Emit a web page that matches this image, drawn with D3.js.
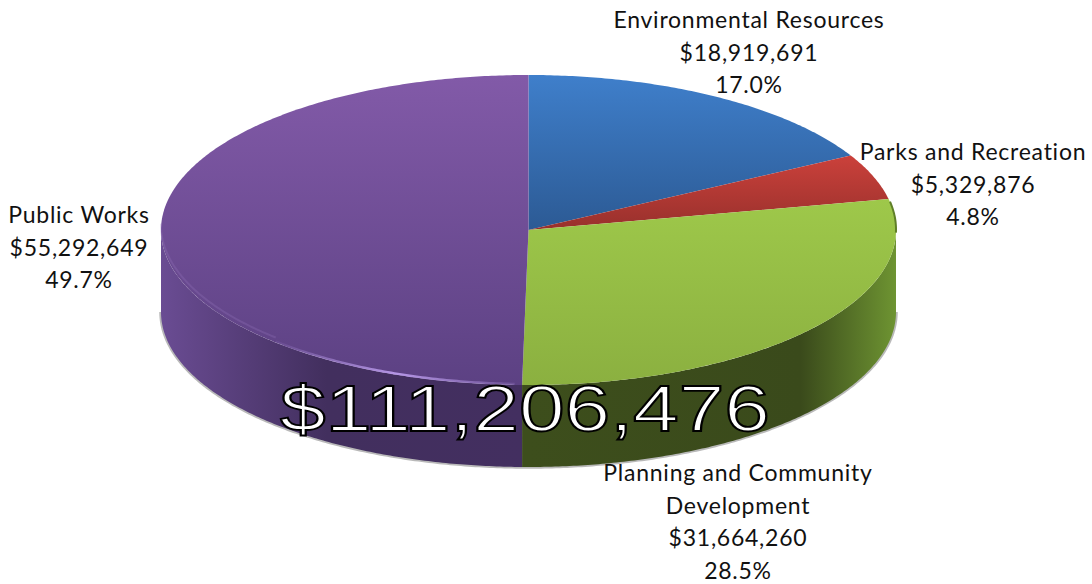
<!DOCTYPE html>
<html>
<head>
<meta charset="utf-8">
<script src="https://cdn.jsdelivr.net/npm/d3@7"></script>
<style>
  html, body { margin: 0; padding: 0; background: #fff; }
  svg { display: block; }
  .lbl { font-family: Lato, "Open Sans", sans-serif; font-size: 23px; letter-spacing: 0.75px; fill: #111; text-anchor: middle; }
  .total { font-family: "Liberation Sans", Arial, sans-serif; fill: #fff; stroke: #000; stroke-width: 1.8px; }
</style>
</head>
<body>
<svg id="chart" width="1092" height="584"></svg>
<script>
// Budget by department
const departments = ["Environmental Resources", "Parks and Recreation", "Planning and Community Development", "Public Works"];
const amounts = [18919691, 5329876, 31664260, 55292649];
const amountLabels = ["$18,919,691", "$5,329,876", "$31,664,260", "$55,292,649"];
const shareLabels = ["17.0%", "4.8%", "28.5%", "49.7%"];
const totalLabel = "$111,206,476";

const labelLines = [
  ["Environmental Resources"],
  ["Parks and Recreation"],
  ["Planning and Community", "Development"],
  ["Public Works"]
];
const labelAnchors = [[749, 28], [973, 160], [738, 481], [79, 223]];

const topStops = [
  ["#3f7fcb", "#2c5a94"],
  ["#cb413b", "#98302c"],
  ["#9ec84a", "#8bb040"],
  ["#825aa8", "#5c4183"]
];
const wallStops = [
  null,
  null,
  ["#3d4e1c", "#3a4a1b", "#6e9432"],
  ["#6a4c93", "#422f5e", "#432f60"]
];

const svg = d3.select("#chart");
const defs = svg.append("defs");

// Ellipse geometry of the tilted disc
const x = d3.scaleLinear().domain([-1, 1]).range([161, 896]);
const y = d3.scaleLinear().domain([-1, 1]).range([75, 385]);
const depth = 82;
const px = a => x(Math.sin(a));
const py = a => y(-Math.cos(a));

const slices = d3.pie().sort(null).value(d => d)(amounts);

function arcPoints(a0, a1, dy) {
  const n = Math.max(2, Math.ceil(Math.abs(a1 - a0) / 0.01));
  return d3.range(n + 1).map(i => {
    const a = a0 + (a1 - a0) * i / n;
    return [px(a), py(a) + dy];
  });
}
const line = d3.line();

slices.forEach((d, i) => {
  // Face shading runs top to bottom over each slice's own extent
  const g = defs.append("linearGradient").attr("id", "face" + i)
    .attr("x1", 0).attr("x2", 0).attr("y1", 0).attr("y2", 1);
  g.append("stop").attr("offset", 0).attr("stop-color", topStops[i][0]);
  g.append("stop").attr("offset", 1).attr("stop-color", topStops[i][1]);
  if (wallStops[i]) {
    const w = defs.append("linearGradient").attr("id", "wall" + i)
      .attr("gradientUnits", "userSpaceOnUse")
      .attr("x1", i === 3 ? x(-1) : x(0)).attr("x2", i === 3 ? x(0) : x(1))
      .attr("y1", 0).attr("y2", 0);
    const offsets = i === 3 ? [0, 0.45, 1] : [0, 0.74, 1];
    wallStops[i].forEach((c, k) => w.append("stop").attr("offset", offsets[k]).attr("stop-color", c));
  }
});

// Rim highlight along the front edge of the largest slice
const rim = defs.append("linearGradient").attr("id", "rim")
  .attr("gradientUnits", "userSpaceOnUse")
  .attr("x1", x(-0.72)).attr("x2", x(0)).attr("y1", 0).attr("y2", 0);
[[0, 0], [0.5, 1], [1, 0.1]].forEach(s =>
  rim.append("stop").attr("offset", s[0]).attr("stop-color", "#b596e6").attr("stop-opacity", s[1]));

// Side wall of the disc, only the front half shows
const front0 = Math.PI / 2, front1 = 3 * Math.PI / 2;
const wallLayer = svg.append("g");

// Grey, slightly feathered lower edge
const lowerEdge = arcPoints(front0, front1, depth);
wallLayer.append("path").attr("d", line(lowerEdge)).attr("fill", "none")
  .attr("stroke", "#8a8a8a").attr("stroke-width", 3.5).attr("stroke-opacity", 0.6);

slices.forEach((d, i) => {
  const a0 = Math.max(d.startAngle, front0), a1 = Math.min(d.endAngle, front1);
  if (a1 <= a0) return;
  const pts = arcPoints(a0, a1, 0).concat(arcPoints(a1, a0, depth));
  wallLayer.append("path").attr("d", line(pts) + "Z").attr("fill", `url(#wall${i})`);
});

// Top face
const faceLayer = svg.append("g");
slices.forEach((d, i) => {
  const pts = [[x(0), y(0)]].concat(arcPoints(d.startAngle, d.endAngle, 0));
  faceLayer.append("path").attr("d", line(pts) + "Z").attr("fill", `url(#face${i})`);
});

// Bevels on the top face
faceLayer.append("path")
  .attr("d", line(arcPoints(slices[2].startAngle + 0.02, Math.PI / 2 + 0.02, -0.5)))
  .attr("fill", "none").attr("stroke", "#5f7f28").attr("stroke-width", 2);
faceLayer.append("path")
  .attr("d", line(arcPoints(slices[3].startAngle + 0.02, 3.9, -1)))
  .attr("fill", "none").attr("stroke", "url(#rim)").attr("stroke-width", 2.4);
faceLayer.append("path")
  .attr("d", line(arcPoints(3.9, 4.72, -5)))
  .attr("fill", "none").attr("stroke", "#9a7cc4").attr("stroke-opacity", 0.25).attr("stroke-width", 2);

// Slice labels
slices.forEach((d, i) => {
  const rows = labelLines[i].concat([amountLabels[i], shareLabels[i]]);
  const t = svg.append("text").attr("class", "lbl");
  rows.forEach((r, k) => t.append("tspan")
    .attr("x", labelAnchors[i][0])
    .attr("y", labelAnchors[i][1] + k * 32.5)
    .text(r));
});

// Grand total across the front of the disc
svg.append("text").attr("class", "total")
  .attr("x", 280).attr("y", 431)
  .attr("font-size", 64)
  .attr("textLength", 490).attr("lengthAdjust", "spacingAndGlyphs")
  .text(totalLabel);
</script>
</body>
</html>
